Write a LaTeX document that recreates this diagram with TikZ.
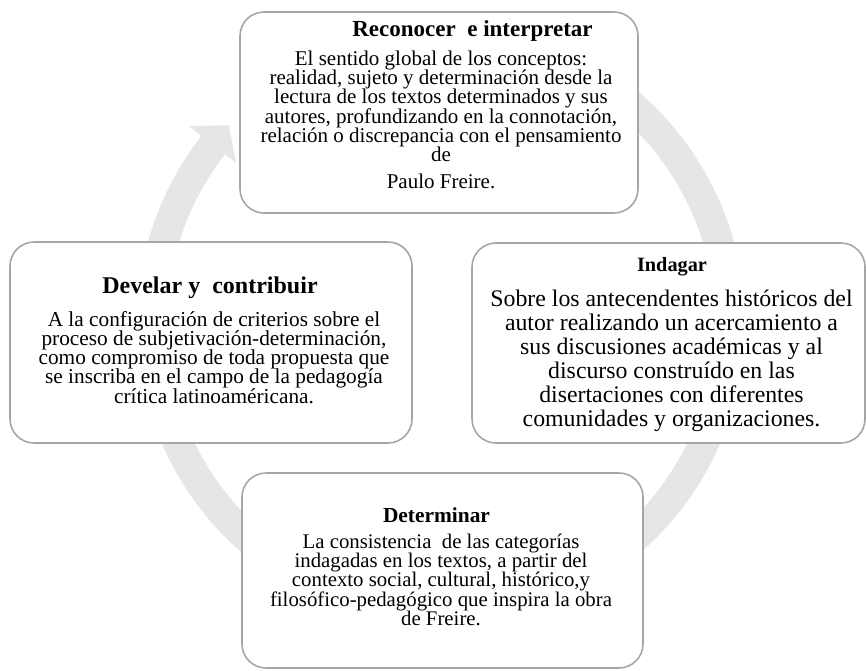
\documentclass[tikz,border=0pt]{standalone}
\usepackage{fontspec}
\setmainfont{Liberation Serif}
\definecolor{ringgray}{HTML}{E6E6E6}
\definecolor{framegray}{HTML}{A6A6A6}
\begin{document}
\begin{tikzpicture}[x=1pt,y=-1pt,
  stagebox/.style={draw=framegray, line width=1.6pt, fill=white,
    rounded corners=24pt, inner sep=0pt},
  heading/.style={font=\bfseries\fontsize{#1}{#1}\selectfont,
    inner sep=0pt, anchor=base},
  % multi-line texts are placed by the baseline of their last line
  bodytext/.style 2 args={font={\fontsize{#1}{#2}\selectfont\lineskiplimit=-50pt},
    align=center, inner sep=0pt, anchor=base},
]
\useasboundingbox (0,0) rectangle (866,670);

% circular arrow running clockwise behind the four stages
\coordinate (hub) at (441,323);
\draw[ringgray, line width=30pt]
  ([shift={(-70:289)}]hub) arc[start angle=-70, end angle=218.3, radius=289];
\fill[ringgray] ([shift={(218:320)}]hub) coordinate (wingout)
  -- ([shift={(223:290)}]hub) coordinate (tip)
  -- ([shift={(218:260)}]hub) coordinate (wingin) -- cycle;

% stage frames
\node[stagebox, minimum width=398pt, minimum height=201pt] (topbox) at (439,112.5) {};
\node[stagebox, minimum width=402pt, minimum height=201pt] (leftbox) at (211,342.5) {};
\node[stagebox, minimum width=393pt, minimum height=200pt] (rightbox) at (668.5,343) {};
\node[stagebox, minimum width=401pt, minimum height=195pt] (bottombox) at (442.5,570.5) {};

% top stage
\node[heading=23] (toptitle) at (472.5,36.7) {Reconocer\ \ e interpretar};
\node[bodytext={21}{19.2}] (topbody) at (441,188)
  {El sentido global de los conceptos:\\
   realidad, sujeto y determinación desde la\\
   lectura de los textos determinados y sus\\
   autores, profundizando en la connotación,\\
   relación o discrepancia con el pensamiento\\
   de\\[7.3pt]
   Paulo Freire.};

% left stage
\node[heading=24] (lefttitle) at (210,293) {Develar y\ \ contribuir};
\node[bodytext={21.3}{19.3}] (leftbody) at (214,403.2)
  {A la configuración de criterios sobre el\\
   proceso de subjetivación-determinación,\\
   como compromiso de toda propuesta que\\
   se inscriba en el campo de la pedagogía\\
   crítica latinoaméricana.};

% right stage
\node[heading=20.3] (righttitle) at (672,271) {Indagar};
\node[bodytext={23.8}{24}] (rightbody) at (671.5,426)
  {Sobre los antecendentes históricos del\\
   autor realizando un acercamiento a\\
   sus discusiones académicas y al\\
   discurso construído en las\\
   disertaciones con diferentes\\
   comunidades y organizaciones.};

% bottom stage
\node[heading=21.4] (bottomtitle) at (436.5,522) {Determinar};
\node[bodytext={20.8}{19.4}] (bottombody) at (441,625.6)
  {La consistencia\ \ de las categorías\\
   indagadas en los textos, a partir del\\
   contexto social, cultural, histórico,y\\
   filosófico-pedagógico que inspira la obra\\
   de Freire.};
\end{tikzpicture}
\end{document}
